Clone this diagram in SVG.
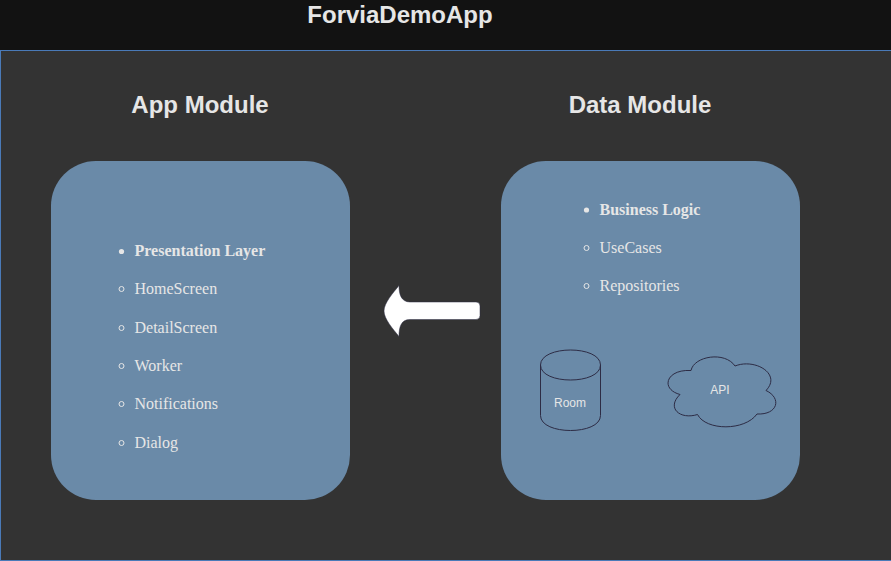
<svg xmlns="http://www.w3.org/2000/svg" width="891" height="561" viewBox="0 0 891 561">
<style>
.h{font-family:"Liberation Sans",Arial,sans-serif;font-weight:700;fill:#e6e6e6;font-size:24px;text-anchor:middle}
.t{font-family:"Liberation Serif","Times New Roman",serif;font-size:16px;fill:#e6e6e6}
.b{font-weight:700}
.s{font-family:"Liberation Sans",Arial,sans-serif;font-size:12px;fill:#e6e6e6;text-anchor:middle}
.mod{fill:#6a8aa8}
.o{fill:none;stroke:#e6e6e6;stroke-width:1}
.f{fill:#e6e6e6}
.sh{fill:#6a8aa8;stroke:#2d2c45;stroke-width:1}
</style>
<rect width="891" height="561" fill="#121212"/>
<rect x="0.5" y="50.5" width="900" height="510" fill="#333333" stroke="#4a7ab8" stroke-width="1"/>
<text class="h" x="400" y="23">ForviaDemoApp</text>
<g id="app-module">
<text class="h" x="200" y="113">App Module</text>
<rect class="mod" x="51" y="161" width="299" height="339" rx="45"/>
<circle class="f" cx="121.500" cy="251.500" r="2.600"/>
<text class="t b" x="134.500" y="256">Presentation Layer</text>
<circle class="o" cx="121.500" cy="289" r="2.500"/>
<text class="t" x="134.500" y="294">HomeScreen</text>
<circle class="o" cx="121.500" cy="328" r="2.500"/>
<text class="t" x="134.500" y="333">DetailScreen</text>
<circle class="o" cx="121.500" cy="366" r="2.500"/>
<text class="t" x="134.500" y="371">Worker</text>
<circle class="o" cx="121.500" cy="404" r="2.500"/>
<text class="t" x="134.500" y="409">Notifications</text>
<circle class="o" cx="121.500" cy="443" r="2.500"/>
<text class="t" x="134.500" y="448">Dialog</text>
</g>
<g id="data-module">
<text class="h" x="640" y="113">Data Module</text>
<rect class="mod" x="501" y="161" width="299" height="339" rx="45"/>
<circle class="f" cx="586.500" cy="210" r="2.600"/>
<text class="t b" x="599.500" y="215">Business Logic</text>
<circle class="o" cx="586.500" cy="248" r="2.500"/>
<text class="t" x="599.500" y="253">UseCases</text>
<circle class="o" cx="586.500" cy="286" r="2.500"/>
<text class="t" x="599.500" y="291">Repositories</text>
</g>
<g id="room">
<path class="sh" d="M540.500 365C540.500 345 600.500 345 600.500 365V415.500C600.500 435.500 540.500 435.500 540.500 415.500Z"/>
<path class="sh" style="fill:none" d="M540.500 365C540.500 385 600.500 385 600.500 365"/>
<text class="s" x="570" y="407">Room</text>
</g>
<g id="api">
<path class="sh" d="M691 370.500C694 356 725 351 735 366C755 358 782 374 766 390.500C782 398 778 415 757 414C745 431 706 431 697.500 414.500C680 420 666 408 680 394.500C660 389 666 369 691 370.500Z"/>
<text class="s" x="720" y="394">API</text>
</g>
<g id="connectors">
<path fill="#ffffff" stroke="#2d2c45" stroke-width="0.500" d="M399 285.500C393 293 384 303 384 311C384 319 393 329 399 336.500C399 327 401 319.500 410 319.500H476Q480 319.500 480 315.500V306Q480 302 476 302H410C401 302 399 294 399 285.500Z"/>
</g>
</svg>
